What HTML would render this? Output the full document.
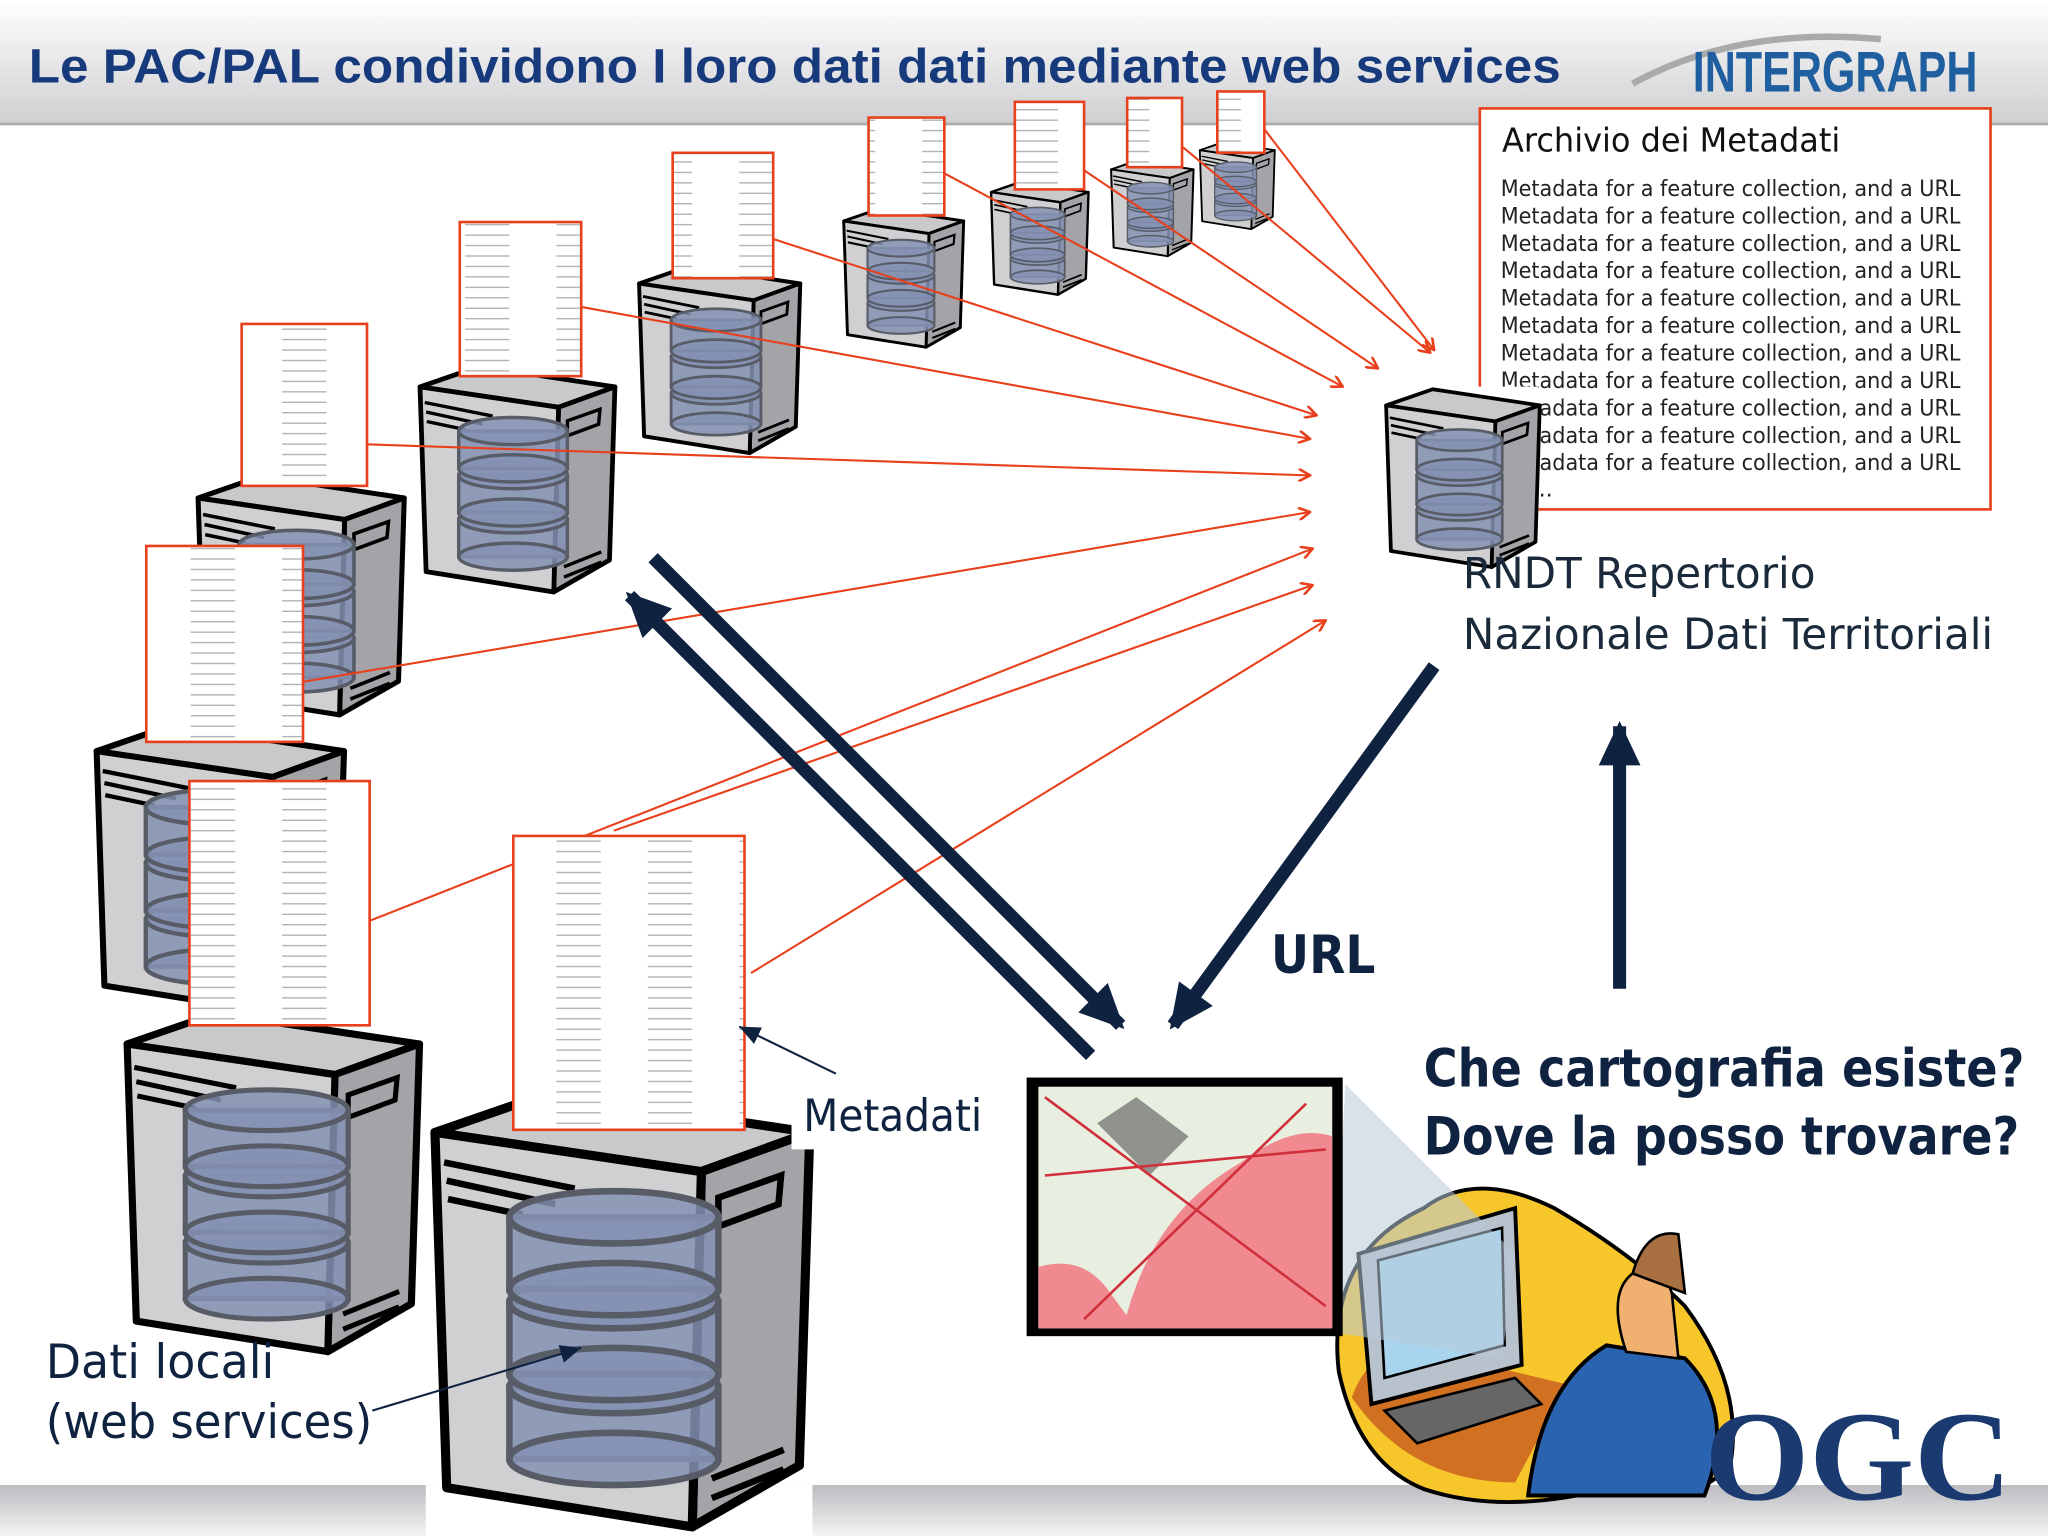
<!DOCTYPE html>
<html><head><meta charset="utf-8"><style>
html,body{margin:0;padding:0;background:#fff}
svg{display:block}
text{font-family:"DejaVu Sans","Liberation Sans",sans-serif}
</style></head><body>
<svg width="2048" height="1536" viewBox="0 0 1568 1176" xmlns="http://www.w3.org/2000/svg">
<defs>
<linearGradient id="hdr" x1="0" y1="0" x2="0" y2="1">
<stop offset="0" stop-color="#ffffff"/><stop offset="1" stop-color="#cfcfd2"/></linearGradient>
<linearGradient id="bot" x1="0" y1="0" x2="0" y2="1">
<stop offset="0" stop-color="#bcbcc0"/><stop offset="1" stop-color="#f4f4f6"/></linearGradient>
<pattern id="txt" patternUnits="userSpaceOnUse" width="70" height="8">
<rect width="70" height="8" fill="#fff"/>
<line x1="6" y1="4" x2="40" y2="4" stroke="#aaa" stroke-width="0.9"/>
</pattern>
<marker id="ra" markerWidth="10" markerHeight="10" refX="9" refY="5" orient="auto" markerUnits="userSpaceOnUse">
<path d="M0,0 L9,5 L0,10" fill="none" stroke="#e8401c" stroke-width="2"/></marker>
<marker id="na" markerWidth="40" markerHeight="40" refX="30" refY="20" orient="auto" markerUnits="userSpaceOnUse">
<path d="M0,4 L34,20 L0,36 Z" fill="#0f2340"/></marker>
<marker id="ta" markerWidth="20" markerHeight="16" refX="16" refY="8" orient="auto" markerUnits="userSpaceOnUse">
<path d="M0,1 L16,8 L0,15 Z" fill="#0f2340"/></marker>
<g id="srv">
<polygon points="3,35 90,5 290,35 207,65" fill="#c9c9cb" stroke="#000" stroke-width="7" stroke-linejoin="round"/>
<polygon points="207,65 290,35 282,290 200,337" fill="#a4a4a8" stroke="#000" stroke-width="7" stroke-linejoin="round"/>
<polygon points="3,35 207,65 200,337 12,307" fill="#d0d0d2" stroke="#000" stroke-width="7" stroke-linejoin="round"/>
<path d="M10,58 L110,78 M12,72 L95,90 M13,86 L70,98" stroke="#000" stroke-width="5"/>
<polygon points="220,85 268,68 266,90 220,107" fill="none" stroke="#000" stroke-width="5"/>
<path d="M215,300 L270,278 M215,315 L270,293" stroke="#000" stroke-width="5"/>
<g fill="#8592b4" fill-opacity="0.85" stroke="#575c66" stroke-width="5">
<rect x="60" y="230" width="160" height="55"/><ellipse cx="140" cy="285" rx="80" ry="20"/><ellipse cx="140" cy="230" rx="80" ry="20"/>
<rect x="60" y="165" width="160" height="55"/><ellipse cx="140" cy="220" rx="80" ry="20"/><ellipse cx="140" cy="165" rx="80" ry="20"/>
<rect x="60" y="100" width="160" height="55"/><ellipse cx="140" cy="155" rx="80" ry="20"/><ellipse cx="140" cy="100" rx="80" ry="20"/>
</g>
</g>
</defs>

<rect width="1568" height="1176" fill="#fff"/>
<rect width="1568" height="95" fill="url(#hdr)"/>
<line x1="0" y1="95" x2="1568" y2="95" stroke="#aaa" stroke-width="2"/>
<text x="22" y="63" font-size="37" font-weight="bold" fill="#163a7c" style="font-family:'Liberation Sans',sans-serif" textLength="1173" lengthAdjust="spacingAndGlyphs">Le PAC/PAL condividono I loro dati dati mediante web services</text>
<path d="M1250,64 Q1330,20 1440,30" fill="none" stroke="#aaa" stroke-width="5"/>
<text x="1296" y="70" font-size="44" font-weight="bold" fill="#1f5f9f" style="font-family:'Liberation Sans',sans-serif" textLength="218" lengthAdjust="spacingAndGlyphs">INTERGRAPH</text>
<rect x="0" y="1137" width="1568" height="39" fill="url(#bot)"/>

<use href="#srv" transform="translate(918,108) scale(0.2)"/>
<use href="#srv" transform="translate(850,122) scale(0.22)"/>
<use href="#srv" transform="translate(758,138) scale(0.26)"/>
<use href="#srv" transform="translate(645,158) scale(0.32)"/>
<use href="#srv" transform="translate(488,202) scale(0.43)"/>
<use href="#srv" transform="translate(320,278) scale(0.52)"/>
<use href="#srv" transform="translate(150,362) scale(0.55)"/>
<use href="#srv" transform="translate(72,552) scale(0.66)"/>
<use href="#srv" transform="translate(95,772) scale(0.78)"/>
<rect x="326" y="1137" width="296" height="39" fill="#fff"/>
<use href="#srv" transform="translate(330,832) scale(1)"/>

<g stroke="#e8401c" stroke-width="1.6" fill="none" marker-end="url(#ra)">
<line x1="575" y1="745" x2="1015" y2="475"/>
<line x1="470" y1="636" x2="1005" y2="448"/>
<line x1="283" y1="705" x2="1005" y2="420"/>
<line x1="232" y1="522" x2="1003" y2="392"/>
<line x1="275" y1="340" x2="1003" y2="364"/>
<line x1="445" y1="235" x2="1003" y2="336"/>
<line x1="592" y1="183" x2="1008" y2="318"/>
<line x1="718" y1="130" x2="1028" y2="296"/>
<line x1="822" y1="125" x2="1055" y2="282"/>
<line x1="900" y1="108" x2="1095" y2="270"/>
<line x1="965" y1="95" x2="1098" y2="268"/>
</g>

<g stroke="#e8401c" stroke-width="2" fill="url(#txt)">
<rect x="932" y="70" width="36" height="47"/>
<rect x="863" y="75" width="42" height="53"/>
<rect x="777" y="78" width="53" height="67"/>
<rect x="665" y="90" width="58" height="75"/>
<rect x="515" y="117" width="77" height="96"/>
<rect x="352" y="170" width="93" height="118"/>
<rect x="185" y="248" width="96" height="124"/>
<rect x="112" y="418" width="120" height="150"/>
<rect x="145" y="598" width="138" height="187"/>
<rect x="393" y="640" width="177" height="225"/>
</g>

<rect x="1133" y="83" width="391" height="307" fill="#fff" stroke="#e8401c" stroke-width="2"/>
<text x="1150" y="116" font-size="25" fill="#111" textLength="259" lengthAdjust="spacingAndGlyphs">Archivio dei Metadati</text>
<g font-size="17" fill="#222">
<text x="1149" y="150" textLength="352" lengthAdjust="spacingAndGlyphs">Metadata for a feature collection, and a URL</text>
<text x="1149" y="171" textLength="352" lengthAdjust="spacingAndGlyphs">Metadata for a feature collection, and a URL</text>
<text x="1149" y="192" textLength="352" lengthAdjust="spacingAndGlyphs">Metadata for a feature collection, and a URL</text>
<text x="1149" y="213" textLength="352" lengthAdjust="spacingAndGlyphs">Metadata for a feature collection, and a URL</text>
<text x="1149" y="234" textLength="352" lengthAdjust="spacingAndGlyphs">Metadata for a feature collection, and a URL</text>
<text x="1149" y="255" textLength="352" lengthAdjust="spacingAndGlyphs">Metadata for a feature collection, and a URL</text>
<text x="1149" y="276" textLength="352" lengthAdjust="spacingAndGlyphs">Metadata for a feature collection, and a URL</text>
<text x="1149" y="297" textLength="352" lengthAdjust="spacingAndGlyphs">Metadata for a feature collection, and a URL</text>
<text x="1149" y="318" textLength="352" lengthAdjust="spacingAndGlyphs">Metadata for a feature collection, and a URL</text>
<text x="1149" y="339" textLength="352" lengthAdjust="spacingAndGlyphs">Metadata for a feature collection, and a URL</text>
<text x="1149" y="360" textLength="352" lengthAdjust="spacingAndGlyphs">Metadata for a feature collection, and a URL</text>
<text x="1178" y="380">..</text>
</g>
<rect x="1056" y="296" width="122" height="124" fill="#fff"/>
<use href="#srv" transform="translate(1060,296) scale(0.41)"/>

<text x="1120" y="450" font-size="33" fill="#1a2a3a" textLength="270" lengthAdjust="spacingAndGlyphs">RNDT Repertorio</text>
<text x="1120" y="497" font-size="33" fill="#1a2a3a" textLength="406" lengthAdjust="spacingAndGlyphs">Nazionale Dati Territoriali</text>

<g stroke="#0f2340" stroke-width="10" fill="none" marker-end="url(#na)">
<line x1="835" y1="808" x2="482" y2="456"/>
<line x1="500" y1="427" x2="858" y2="785"/>
<line x1="1098" y1="510" x2="898" y2="785"/>
<line x1="1240" y1="757" x2="1240" y2="556"/>
</g>
<text x="973" y="745" font-size="40" font-weight="bold" fill="#0f2340" textLength="80" lengthAdjust="spacingAndGlyphs">URL</text>

<line x1="640" y1="822" x2="566" y2="786" stroke="#0f2340" stroke-width="1.6" marker-end="url(#ta)"/>
<rect x="606" y="828" width="150" height="52" fill="#fff"/>
<text x="615" y="866" font-size="34" fill="#0f2340" textLength="137" lengthAdjust="spacingAndGlyphs">Metadati</text>

<line x1="285" y1="1080" x2="445" y2="1032" stroke="#0f2340" stroke-width="1.6" marker-end="url(#ta)"/>
<text x="35" y="1055" font-size="36" fill="#0f2340" textLength="175" lengthAdjust="spacingAndGlyphs">Dati locali</text>
<text x="35" y="1101" font-size="36" fill="#0f2340" textLength="250" lengthAdjust="spacingAndGlyphs">(web services)</text>

<text x="1090" y="832" font-size="40" font-weight="bold" fill="#0f2340" textLength="460" lengthAdjust="spacingAndGlyphs">Che cartografia esiste?</text>
<text x="1090" y="884" font-size="40" font-weight="bold" fill="#0f2340" textLength="456" lengthAdjust="spacingAndGlyphs">Dove la posso trovare?</text>

<path d="M1025,1050 Q1015,960 1090,925 Q1130,895 1190,925 Q1250,960 1290,1000 Q1335,1060 1325,1120 Q1300,1155 1230,1140 Q1150,1160 1090,1140 Q1040,1120 1025,1050 Z" fill="#f6c62a" stroke="#000" stroke-width="3"/>
<path d="M1035,1070 Q1045,1040 1075,1030 L1200,1060 L1160,1135 Q1080,1135 1035,1070 Z" fill="#d07020"/>
<polygon points="1040,960 1160,925 1165,1045 1050,1075" fill="#b8c2cc" stroke="#000" stroke-width="3"/>
<polygon points="1055,965 1150,940 1152,1030 1060,1055" fill="#a8d4ee" stroke="#000" stroke-width="2"/>
<polygon points="1060,1080 1160,1055 1180,1075 1085,1105" fill="#666" stroke="#000" stroke-width="2"/>
<path d="M1170,1145 Q1180,1060 1230,1030 L1290,1040 Q1330,1080 1305,1145 Z" fill="#2a64b0" stroke="#000" stroke-width="3"/>
<path d="M1245,1035 Q1230,990 1250,975 Q1270,960 1280,990 L1285,1040 Z" fill="#f0b070" stroke="#000" stroke-width="2"/>
<path d="M1250,975 Q1260,940 1285,945 L1290,990 Z" fill="#a87040" stroke="#000" stroke-width="2"/>
<polygon points="1030,830 1160,960 1150,1040 1020,1020" fill="#b8cbd8" fill-opacity="0.55"/>
<rect x="786" y="825" width="242" height="198" fill="#000"/>
<rect x="795" y="832" width="225" height="185" fill="#e8efe0"/>
<path d="M860,1017 Q880,930 950,890 Q990,860 1020,870 L1020,1017 Z" fill="#f08a90"/>
<path d="M795,1017 L795,970 Q830,960 850,990 L870,1017 Z" fill="#f08a90"/>
<path d="M840,860 L880,900 L910,870 L870,840 Z" fill="#555" fill-opacity="0.6"/>
<path d="M800,840 L1015,1000 M830,1010 L1000,845 M800,900 L1015,880" stroke="#d0303c" stroke-width="2" fill="none"/>
<text x="1305" y="1148" font-size="98" font-weight="bold" fill="#1a3a70" style="font-family:'Liberation Serif','DejaVu Serif',serif" textLength="235" lengthAdjust="spacingAndGlyphs">OGC</text>
</svg>
</body></html>
